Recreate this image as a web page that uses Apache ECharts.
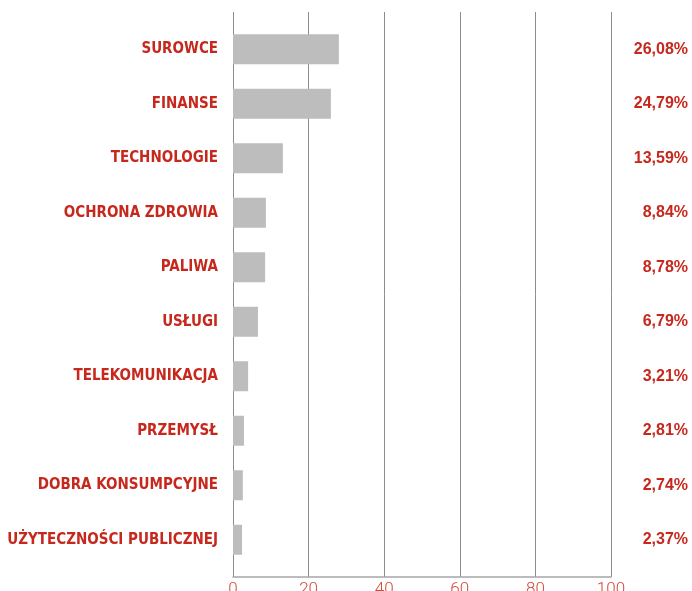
<!DOCTYPE html>
<html>
<head>
    <meta charset="utf-8">
    <title>ECharts</title>
    <script src="https://cdn.jsdelivr.net/npm/echarts@6/dist/echarts.min.js"></script>
    <style>
        html, body { margin: 0; padding: 0; background: #fff; }
        #main { width: 692px; height: 591px; }
    </style>
</head>
<body>
    <div id="main"></div>
    <script type="text/javascript">
        var categories = ['SUROWCE', 'FINANSE', 'TECHNOLOGIE', 'OCHRONA ZDROWIA', 'PALIWA',
            'USŁUGI', 'TELEKOMUNIKACJA', 'PRZEMYSŁ', 'DOBRA KONSUMPCYJNE', 'UŻYTECZNOŚCI PUBLICZNEJ'];
        var barValues = [28.0, 25.9, 13.2, 8.7, 8.5, 6.6, 4.0, 2.9, 2.6, 2.4];
        var shareLabels = ['26,08%', '24,79%', '13,59%', '8,84%', '8,78%', '6,79%', '3,21%', '2,81%', '2,74%', '2,37%'];
        var xTicks = [0, 20, 40, 60, 80, 100];

        var red = '#c6281d';
        var myChart = echarts.init(document.getElementById('main'));

        var option = {
            animation: false,
            grid: [
                // grid lines + bottom axis
                { left: 233, right: 81, top: 12, bottom: 14, outerBoundsMode: 'none', containLabel: false },
                // bars + labels
                { left: 233, right: 81, top: 22, bottom: 24, outerBoundsMode: 'none', containLabel: false }
            ],
            xAxis: [
                {
                    gridIndex: 0,
                    type: 'value',
                    min: xTicks[0],
                    max: xTicks[xTicks.length - 1],
                    interval: xTicks[1] - xTicks[0],
                    axisLine: { show: true, lineStyle: { color: '#a6a6a6', width: 1.5 } },
                    axisTick: { show: false },
                    splitLine: { show: true, lineStyle: { color: '#8c8c8c', width: 1 } },
                    axisLabel: {
                        color: '#d4493b',
                        fontFamily: 'Roboto',
                        fontWeight: 300,
                        fontSize: 17,
                        margin: 4
                    }
                },
                {
                    gridIndex: 1,
                    type: 'value',
                    min: 0,
                    max: 100,
                    show: false
                }
            ],
            yAxis: [
                { gridIndex: 0, type: 'value', show: false },
                {
                    gridIndex: 1,
                    type: 'category',
                    data: categories,
                    inverse: true,
                    axisLine: { show: false },
                    axisTick: { show: false },
                    axisLabel: {
                        color: red,
                        fontFamily: 'DejaVu Sans Condensed, Liberation Sans',
                        fontWeight: 'bold',
                        fontSize: 15,
                        margin: 15
                    }
                },
                {
                    gridIndex: 1,
                    type: 'category',
                    position: 'right',
                    data: shareLabels,
                    inverse: true,
                    axisLine: { show: false },
                    axisTick: { show: false },
                    axisLabel: {
                        color: red,
                        fontFamily: 'Liberation Sans',
                        fontWeight: 'bold',
                        fontSize: 16,
                        align: 'right',
                        margin: 77
                    }
                }
            ],
            series: [
                {
                    type: 'bar',
                    xAxisIndex: 1,
                    yAxisIndex: 1,
                    data: barValues,
                    barWidth: 30,
                    itemStyle: { color: '#bdbdbd' }
                }
            ]
        };
        myChart.setOption(option);
    </script>
</body>
</html>
